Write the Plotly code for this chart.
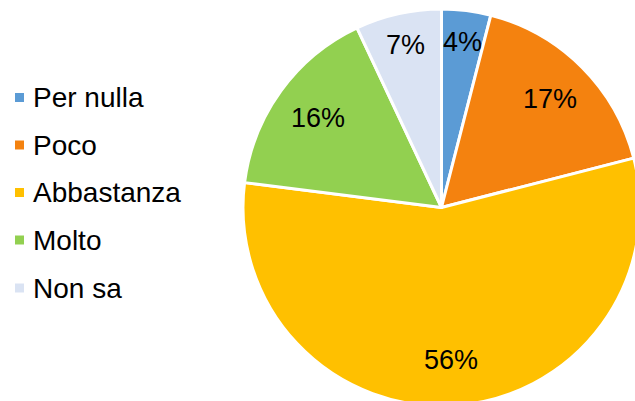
import math
import plotly.graph_objects as go

categories = ["Per nulla", "Poco", "Abbastanza", "Molto", "Non sa"]
values = [4, 17, 56, 16, 7]
colors = ["#5B9BD5", "#F4820F", "#FFC000", "#92D050", "#DAE3F3"]

W, H = 640, 406
left, top = 243, 9
r = (W - left) / 2.0
cx, cy = left + r, top + r
PH = H - top  # plot-area height (paper coordinates span this)
FONT = "Liberation Sans, Arial, sans-serif"


def px2paper(x, y):
    return x / W, 1 - (y - top) / PH


fig = go.Figure(go.Pie(
    labels=categories,
    values=values,
    sort=False,
    direction="clockwise",
    rotation=0,
    marker=dict(colors=colors, line=dict(color="white", width=3)),
    textinfo="none",
    showlegend=False,
    domain=dict(x=[left / W, 1], y=[0, 1]),
    hoverinfo="label+percent",
))

annotations = []
shapes = []

# percentage labels, placed at mid-angle of each slice (derived from values)
total = sum(values)
cum = 0
for v in values:
    mid = (cum + v / 2) / total * 2 * math.pi
    cum += v
    frac = v / total
    rr = (0.84 if frac < 0.1 else 0.77) * r
    ax, ay = px2paper(cx + rr * math.sin(mid), cy - rr * math.cos(mid))
    annotations.append(dict(text=f"{round(frac * 100)}%", xref="paper", yref="paper",
                            x=ax, y=ay, xanchor="center", yanchor="middle",
                            showarrow=False, font=dict(family=FONT, size=27, color="black")))

# manual legend
row_y = [97.5, 145, 192.5, 240, 288]
for cat, col, yy in zip(categories, colors, row_y):
    x0, y0 = px2paper(15, yy + 4.5)
    x1, y1 = px2paper(24, yy - 4.5)
    shapes.append(dict(type="rect", xref="paper", yref="paper",
                       x0=x0, x1=x1, y0=y0, y1=y1,
                       fillcolor=col, line=dict(width=0)))
    tx, ty = px2paper(31, yy)
    annotations.append(dict(text=cat, xref="paper", yref="paper", x=tx, y=ty,
                            xanchor="left", yanchor="middle", showarrow=False,
                            font=dict(family=FONT, size=28, color="black")))

fig.update_layout(
    width=W, height=H,
    margin=dict(l=0, r=0, t=top, b=0),
    paper_bgcolor="white",
    plot_bgcolor="white",
    annotations=annotations,
    shapes=shapes,
)

fig.write_html(
    "out.html",
    config={"displayModeBar": False},
    post_script="document.documentElement.style.margin='0';document.body.style.margin='0';"
                "document.body.style.overflow='hidden';document.documentElement.style.overflow='hidden';",
)
